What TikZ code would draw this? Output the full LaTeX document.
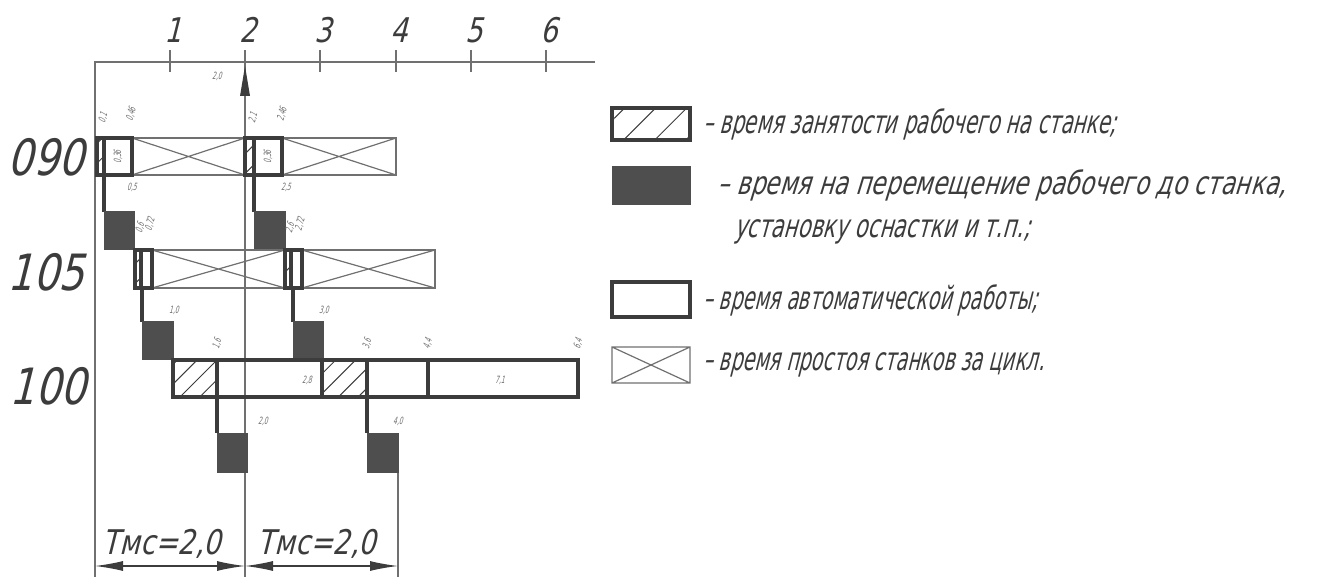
\documentclass[tikz,border=0pt]{standalone}
\usepackage{fontspec}
\setmainfont{DejaVu Sans}[FakeSlant=0.25,FakeStretch=0.6]
\newfontfamily\gostwide{DejaVu Sans}[FakeSlant=0.25,FakeStretch=0.8]
\usetikzlibrary{arrows.meta,patterns.meta}
\definecolor{inkGray}{HTML}{3C3C3C}
\definecolor{thinGray}{HTML}{707070}
\definecolor{fillGray}{HTML}{4E4E4E}

\begin{document}
\begin{tikzpicture}[x=0.5pt,y=-0.5pt,
    thinline/.style={draw=thinGray,line width=0.6pt},
    work/.style={draw=inkGray,line width=2pt},
    hatch/.style={pattern={Lines[angle=45,distance=7pt,line width=0.5pt]},pattern color=inkGray},
    movebox/.style={fill=fillGray,draw=fillGray,line width=0.5pt},
    ticklabel/.style={font=\gostwide\fontsize{17}{17}\selectfont,text=inkGray},
    rowlabel/.style={font=\gostwide\fontsize{25}{25}\selectfont,text=inkGray},
    smalllabel/.style={font=\fontsize{5}{5}\selectfont,text=thinGray,rotate=75},
    legendtext/.style={anchor=west,font=\fontsize{16}{16}\selectfont,text=inkGray},
    dimline/.style={{Latex[length=14pt,width=5pt]}-{Latex[length=14pt,width=5pt]},draw=inkGray,line width=0.6pt}]
  \useasboundingbox (0,0) rectangle (1318,577);
  % axes
  \draw[thinline] (95,577) -- (95,62) -- (595,62);
  \foreach \n/\x in {1/170,2/245,3/320,4/396,5/471,6/546} {
    \draw[thinline] (\x,50) -- (\x,72);
    \node[ticklabel] (tick\n) at (\x+3,30) {\n};
  }
  \draw[thinline] (245,577) -- (245,66);
  \fill[inkGray] (245,66) -- (240,96) -- (250,96) -- cycle;
  \draw[thinline] (398,472) -- (398,577);
  \node[smalllabel,rotate=-75] (t20) at (217,76) {2,0};
  % row labels
  \node[rowlabel] (row090) at (46,157) {090};
  \node[rowlabel] (row105) at (46,272) {105};
  \node[rowlabel] (row100) at (48,386) {100};
  % row 090
  \draw[thinline] (97,138) rectangle (396,175);
  \draw[thinline] (132,138) -- (245,175) (132,175) -- (245,138);
  \draw[thinline] (282,138) -- (396,175) (282,175) -- (396,138);
  \fill[hatch] (97,138) rectangle (104,175);
  \fill[hatch] (245,138) rectangle (254,175);
  \draw[work] (97,138) rectangle (132,175) (104,138) -- (104,175);
  \draw[work] (245,138) rectangle (282,175) (254,138) -- (254,175);
  \node[smalllabel,rotate=15] (a036) at (118,157) {0,36};
  \node[smalllabel,rotate=15] (b036) at (268,157) {0,36};
  \node[smalllabel] (a01) at (103,118) {0,1};
  \node[smalllabel] (a046) at (131,114) {0,46};
  \node[smalllabel] (b21) at (253,118) {2,1};
  \node[smalllabel] (b246) at (282,114) {2,46};
  % move to 105
  \draw[work] (104,175) -- (104,212);
  \draw[work] (254,175) -- (254,212);
  \draw[movebox] (104,212) rectangle (134,250);
  \draw[movebox] (254,212) rectangle (285,250);
  \node[smalllabel,rotate=-75] (a05) at (132,187) {0,5};
  \node[smalllabel,rotate=-75] (b25) at (286,187) {2,5};
  % row 105
  \draw[thinline] (135,250) rectangle (435,288);
  \draw[thinline] (152,250) -- (285,288) (152,288) -- (285,250);
  \draw[thinline] (302,250) -- (435,288) (302,288) -- (435,250);
  \fill[hatch] (135,250) rectangle (141,288);
  \fill[hatch] (285,250) rectangle (291,288);
  \draw[work] (135,250) rectangle (152,288) (141,250) -- (141,288);
  \draw[work] (285,250) rectangle (302,288) (291,250) -- (291,288);
  \node[smalllabel] (a06) at (140,228) {0,6};
  \node[smalllabel] (a072) at (150,224) {0,72};
  \node[smalllabel] (b26) at (290,228) {2,6};
  \node[smalllabel] (b272) at (300,224) {2,72};
  % move to 100
  \draw[work] (142,288) -- (142,322);
  \draw[work] (293,288) -- (293,322);
  \draw[movebox] (142,322) rectangle (173,360);
  \draw[movebox] (293,322) rectangle (323,360);
  \node[smalllabel,rotate=-75] (a10) at (174,310) {1,0};
  \node[smalllabel,rotate=-75] (b30) at (324,310) {3,0};
  % row 100
  \fill[hatch] (173,360) rectangle (217,397);
  \fill[hatch] (322,360) rectangle (367,397);
  \draw[work] (173,360) rectangle (578,397);
  \foreach \x in {217,322,367,428} \draw[work] (\x,360) -- (\x,397);
  \node[smalllabel] (a16) at (217,344) {1,6};
  \node[smalllabel] (b36) at (367,344) {3,6};
  \node[smalllabel] (b44) at (428,344) {4,4};
  \node[smalllabel] (b64) at (578,344) {6,4};
  \node[smalllabel,rotate=-75] (a28) at (307,380) {2,8};
  \node[smalllabel,rotate=-75] (b71) at (500,380) {7,1};
  % move to 090
  \draw[work] (217,397) -- (217,433);
  \draw[work] (367,397) -- (367,433);
  \draw[movebox] (217,433) rectangle (247,472);
  \draw[movebox] (367,433) rectangle (398,472);
  \node[smalllabel,rotate=-75] (a20) at (263,421) {2,0};
  \node[smalllabel,rotate=-75] (b40) at (398,421) {4,0};
  % cycle
  \node[ticklabel] (tmc1) at (162,544) {Тмс=2,0};
  \node[ticklabel] (tmc2) at (317,544) {Тмс=2,0};
  \draw[dimline] (95,566) -- (245,566);
  \draw[dimline] (245,566) -- (398,566);
  % legend
  \fill[pattern={Lines[angle=45,distance=11pt,line width=0.5pt]},pattern color=inkGray] (612,108) rectangle (690,140);
  \draw[work] (612,108) rectangle (690,140);
  \draw[movebox] (612,167) rectangle (690,205);
  \draw[work] (612,282) rectangle (690,317);
  \draw[thinline] (612,347) rectangle (690,383) (612,347) -- (690,383) (612,383) -- (690,347);
  \node[legendtext] (leg1) at (696,124) {\scalebox{1.04}[1]{– время занятости рабочего на станке;}};
  \node[legendtext] (leg2) at (710,185) {\scalebox{1.22}[1]{– время на перемещение рабочего до станка,}};
  \node[legendtext] (leg2b) at (727,232) {\scalebox{1.1}[1]{установку оснастки и т.п.;}};
  \node[legendtext] (leg3) at (696,300) {– время автоматической работы;};
  \node[legendtext] (leg4) at (696,365) {– время простоя станков за цикл.};
\end{tikzpicture}
\end{document}
